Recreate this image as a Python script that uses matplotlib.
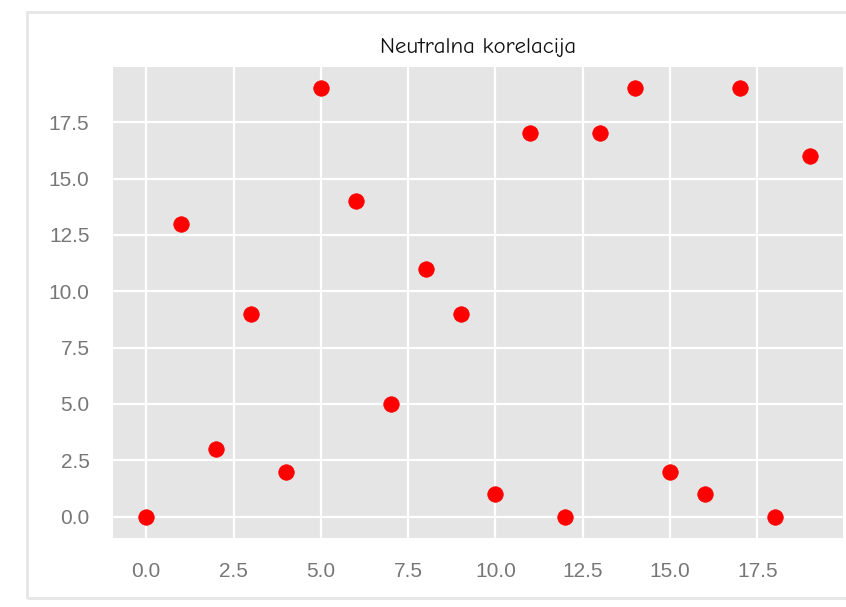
import matplotlib
matplotlib.use("Agg")
import matplotlib.pyplot as plt
from matplotlib.patches import Rectangle

# data
x_vals = list(range(20))
y_vals = [0, 13, 3, 9, 2, 19, 14, 5, 11, 9, 1, 17, 0, 17, 19, 2, 1, 19, 0, 16]
title = "Neutralna korelacija"

plt.style.use("ggplot")
plt.rcParams["font.family"] = ["Liberation Sans", "DejaVu Sans"]

fig = plt.figure(figsize=(8.46, 6.07), dpi=100)
ax = fig.add_axes([113 / 846, 1 - 538 / 607, (843 - 113) / 846, (538 - 67) / 607])

ax.scatter(x_vals, y_vals, s=125, color="#ff0000", zorder=3)

ax.set_facecolor("#e5e5e5")
ax.grid(True, color="white", linewidth=1.6)
for sp in ax.spines.values():
    sp.set_visible(False)
ax.tick_params(axis="both", length=0, pad=17, labelsize=15, labelcolor="#777777")
ax.set_yticks([0, 2.5, 5, 7.5, 10, 12.5, 15, 17.5])
ax.set_xticks([0, 2.5, 5, 7.5, 10, 12.5, 15, 17.5])
ax.set_title(title, fontsize=16.5, color="#111111", pad=10,
             family=["Comic Neue", "DejaVu Sans"])

# light frame around the output cell
frame = Rectangle((27 / 846, 1 - 598 / 607), 1.0, (598 - 12) / 607,
                  transform=fig.transFigure, fill=False,
                  edgecolor="#e6e6e6", linewidth=2, clip_on=False)
fig.patches.append(frame)

fig.savefig("out.png", dpi=100, facecolor="white")
